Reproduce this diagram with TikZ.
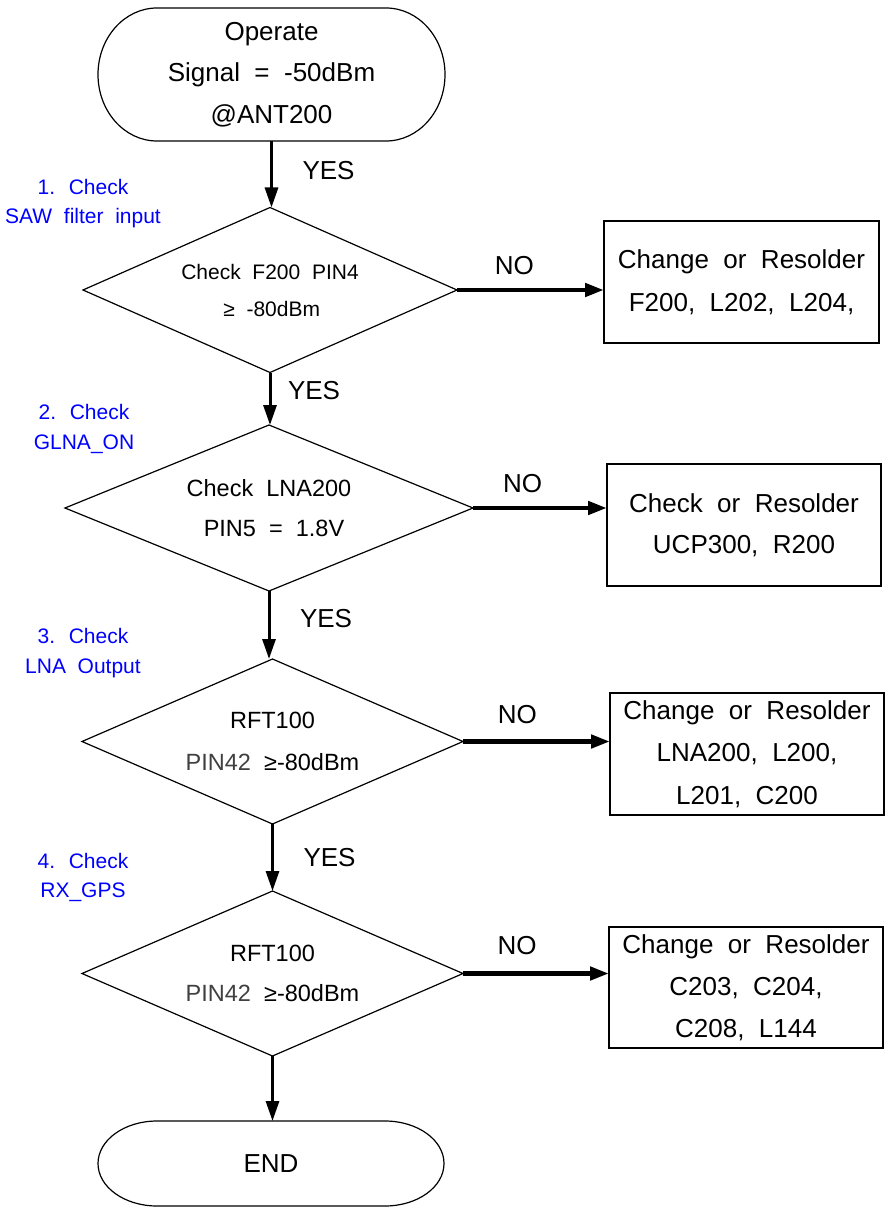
\documentclass[tikz,border=0pt]{standalone}
\usepackage{fontspec}
\setmainfont{Liberation Sans}[WordSpace=2]
\usetikzlibrary{shapes.geometric,arrows.meta}
\begin{document}
\begin{tikzpicture}[x=1pt,y=-1pt,
  every node/.style={inner sep=0pt, outer sep=0pt},
  term/.style={line width=1.2pt},
  termnode/.style={rectangle, align=center},
  decision/.style={diamond, draw, line width=1.2pt, align=center},
  action/.style={rectangle, draw, line width=1.7pt, align=center, minimum width=274pt, minimum height=122pt, font=\fontsize{26pt}{42pt}\selectfont},
  vline/.style={line width=3pt, -{Triangle[length=20pt,width=13pt]}},
  hline/.style={line width=4.5pt, -{Triangle[length=19pt,width=13pt]}},
  lbl/.style={font=\fontsize{26pt}{30pt}\selectfont},
  note/.style={text=blue, align=center, font=\fontsize{21pt}{29.5pt}\selectfont}
]
\useasboundingbox (0,0) rectangle (888,1214);

% terminals
\node[termnode, minimum width=347pt, minimum height=133pt, font=\fontsize{26pt}{41.5pt}\selectfont] (start) at (271.5,74.5) {Operate\\Signal = -50dBm\\@ANT200};
\draw[term] ([xshift=59pt]start.north west) -- ([xshift=-59pt]start.north east)
  arc[start angle=90, end angle=-90, x radius=59pt, y radius=66.5pt]
  -- ([xshift=59pt]start.south west)
  arc[start angle=270, end angle=90, x radius=59pt, y radius=66.5pt] -- cycle;

\node[termnode, minimum width=346pt, minimum height=85pt, font=\fontsize{26pt}{30pt}\selectfont] (end) at (271,1163.5) {END};
\draw[term] ([xshift=59pt]end.north west) -- ([xshift=-59pt]end.north east)
  arc[start angle=90, end angle=-90, x radius=59pt, y radius=42.5pt]
  -- ([xshift=59pt]end.south west)
  arc[start angle=270, end angle=90, x radius=59pt, y radius=42.5pt] -- cycle;

% decisions
\node[decision, aspect=2.27, minimum width=374pt, minimum height=165pt, font=\fontsize{21pt}{37pt}\selectfont] (d1) at (270,290) {Check F200 PIN4\\$\,$≥ -80dBm};
\node[decision, aspect=2.46, minimum width=408pt, minimum height=166pt, font=\fontsize{23.5pt}{40pt}\selectfont] (d2) at (269,508) {Check LNA200\\\hspace{10pt}PIN5 = 1.8V};
\node[decision, aspect=2.31, minimum width=381pt, minimum height=165pt, font=\fontsize{23.5pt}{42pt}\selectfont] (d3) at (272.5,741.5) {RFT100\\{\color{black!75}PIN42} ≥-80dBm};
\node[decision, aspect=2.31, minimum width=381pt, minimum height=165pt, font=\fontsize{23.5pt}{40pt}\selectfont] (d4) at (272.5,973.5) {RFT100\\{\color{black!75}PIN42} ≥-80dBm};

% actions
\node[action, minimum width=275pt, font=\fontsize{26pt}{43pt}\selectfont] (b1) at (741.5,282) {Change or Resolder\\F200, L202, L204,};
\node[action, font=\fontsize{26pt}{41pt}\selectfont] (b2) at (744,525) {Check or Resolder\\UCP300, R200};
\node[action, font=\fontsize{26pt}{42.5pt}\selectfont] (b3) at (747,754) {Change or Resolder\\LNA200, L200,\\L201, C200};
\node[action, minimum height=121pt, font=\fontsize{26pt}{42pt}\selectfont] (b4) at (746,987.5) {Change or Resolder\\C203, C204,\\C208, L144};

% notes
\node[note] (n1) at (83,203.5) {1. Check\hspace{6pt}\\SAW filter input};
\node[note] (n2) at (84,429) {2. Check\hspace{10pt}\\GLNA\_ON};
\node[note] (n3) at (83,653) {3. Check\hspace{6pt}\\LNA Output};
\node[note] (n4) at (83,877.5) {4. Check\hspace{6pt}\\RX\_GPS};

% yes arrows
\draw[vline] (start.south) -- (start.south |- d1.north) node[lbl, pos=0.45, right=31pt] {YES};
\draw[vline] (d1.south) -- (d1.south |- d2.north) node[lbl, pos=0.34, right=18pt] {YES};
\draw[vline] (d2.south) -- (d2.south |- d3.north) node[lbl, pos=0.4, right=31pt] {YES};
\draw[vline] (d3.south) -- (d3.south |- d4.north) node[lbl, pos=0.5, right=31pt] {YES};
\draw[vline] (d4.south) -- (d4.south |- end.north);

% no arrows
\draw[hline] (d1.east) -- (d1.east -| b1.west) node[lbl, pos=0.39, above=15.5pt] {NO};
\draw[hline] (d2.east) -- (d2.east -| b2.west) node[lbl, pos=0.37, above=15pt] {NO};
\draw[hline] (d3.east) -- (d3.east -| b3.west) node[lbl, pos=0.37, above=17.5pt] {NO};
\draw[hline] (d4.east) -- (d4.east -| b4.west) node[lbl, pos=0.37, above=19pt] {NO};
\end{tikzpicture}
\end{document}
